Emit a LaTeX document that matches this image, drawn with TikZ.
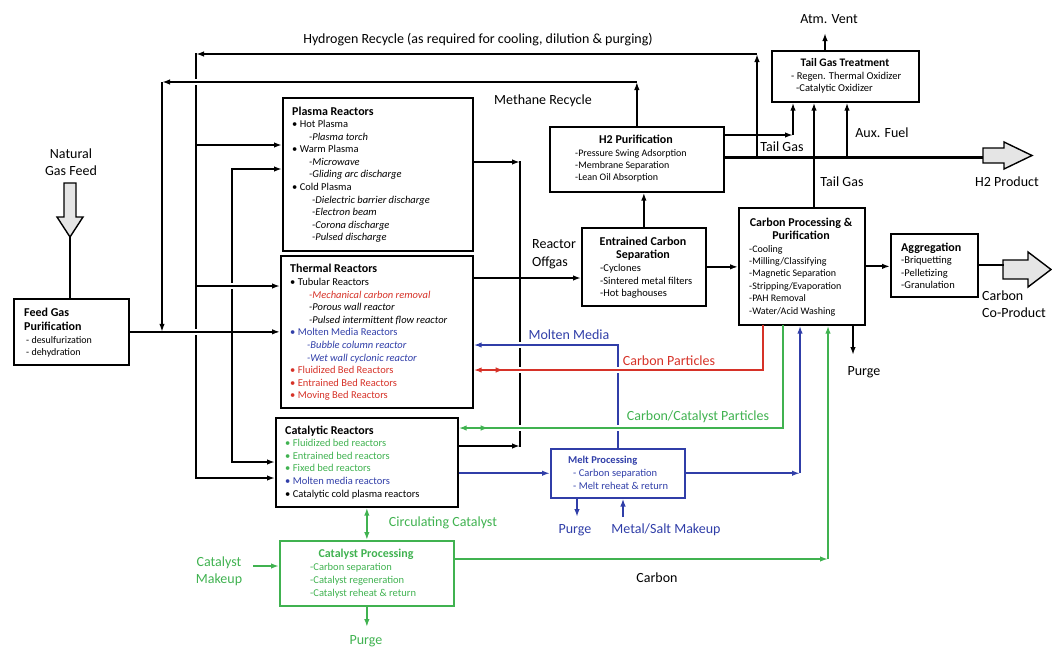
\documentclass[tikz,border=0pt]{standalone}
\usepackage{fontspec}
\setmainfont{Carlito}
\usetikzlibrary{arrows.meta,calc,decorations.markings}

\definecolor{tred}{RGB}{214,50,40}
\definecolor{tblue}{RGB}{48,62,168}
\definecolor{tgreen}{RGB}{64,178,80}

\tikzset{
  box/.style={draw, line width=1.7pt, inner sep=0pt, anchor=north west},
  ttl/.style={inner sep=0pt, font=\fontsize{12}{13}\selectfont\bfseries, align=center},
  body/.style={inner sep=0pt, anchor=north west, align=left, font=\fontsize{10.5}{12.6}\selectfont},
  lbl/.style={inner sep=0pt, font=\fontsize{14}{17}\selectfont, align=center},
  plain/.style={line width=1.8pt, line cap=rect},
  flow/.style={line width=1.8pt, -{Latex[length=8pt,width=5.5pt]}},
  mask/.style={draw=white, line width=6pt, shorten <=7pt, shorten >=7pt},
  twoway/.style={postaction={decorate}, decoration={markings,
      mark=at position -30pt with {\arrowreversed{Latex[length=8pt,width=5.5pt]}}}},
  bigarrow/.style={draw, line width=1.4pt, fill=gray!20}
}

\begin{document}
\begin{tikzpicture}[x=1pt,y=-1pt]
\useasboundingbox (0,0) rectangle (1052,648);

% Feed gas
\node[lbl] (ngf) at (71,162.5) {Natural\\Gas Feed};
\draw[bigarrow] (64,183) -- (76,183) -- (76,217) -- (83,217) -- (70,237) -- (57,217) -- (64,217) -- cycle;
\coordinate (ngtip) at (70,237);
\node[box, minimum width=115pt, minimum height=66pt] (feed) at (13,298) {};
\node[ttl, anchor=north west, align=left, font=\fontsize{12}{14}\selectfont\bfseries] (feedttl) at (24,307.5) {Feed Gas\\Purification};
\node[body, font=\fontsize{10}{12}\selectfont] (feedtxt) at (26,336) {- desulfurization\\- dehydration};
\draw[plain] (ngtip) -- (ngtip |- feed.north);

% Plasma reactors
\node[box, minimum width=190pt, minimum height=153pt] (plasma) at (282,97) {};
\node[ttl, anchor=north west] (plasmattl) at (292,106.5) {Plasma Reactors};
\node[body] (plasmatxt) at (292,120) {\textbullet\ Hot Plasma\\
  \hspace*{17pt}\textit{-Plasma torch}\\
  \textbullet\ Warm Plasma\\
  \hspace*{17pt}\textit{-Microwave}\\
  \hspace*{17pt}\textit{-Gliding arc discharge}\\
  \textbullet\ Cold Plasma\\
  \hspace*{20pt}\textit{-Dielectric barrier discharge}\\
  \hspace*{20pt}\textit{-Electron beam}\\
  \hspace*{20pt}\textit{-Corona discharge}\\
  \hspace*{20pt}\textit{-Pulsed discharge}};

% Thermal reactors
\node[box, minimum width=192pt, minimum height=152pt] (thermal) at (280,255) {};
\node[ttl, anchor=north west] (thermalttl) at (290,263.5) {Thermal Reactors};
\node[body] (thermaltxt) at (290,278) {\textbullet\ Tubular Reactors\\
  \hspace*{19pt}\textcolor{tred}{\textit{-Mechanical carbon removal}}\\
  \hspace*{19pt}\textit{-Porous wall reactor}\\
  \hspace*{19pt}\textit{-Pulsed intermittent flow reactor}\\
  \textcolor{tblue}{\textbullet\ Molten Media Reactors}\\
  \hspace*{17pt}\textcolor{tblue}{\textit{-Bubble column reactor}}\\
  \hspace*{17pt}\textcolor{tblue}{\textit{-Wet wall cyclonic reactor}}\\
  \textcolor{tred}{\textbullet\ Fluidized Bed Reactors}\\
  \textcolor{tred}{\textbullet\ Entrained Bed Reactors}\\
  \textcolor{tred}{\textbullet\ Moving Bed Reactors}};

% Catalytic reactors
\node[box, minimum width=182pt, minimum height=89pt] (catalytic) at (275,417) {};
\node[ttl, anchor=north west] (catalyticttl) at (285,425.5) {Catalytic Reactors};
\node[body, font=\fontsize{10.5}{12.75}\selectfont] (catalytictxt) at (285,439) {\textcolor{tgreen}{\textbullet\ Fluidized bed reactors}\\
  \textcolor{tgreen}{\textbullet\ Entrained bed reactors}\\
  \textcolor{tgreen}{\textbullet\ Fixed bed reactors}\\
  \textcolor{tblue}{\textbullet\ Molten media reactors}\\
  \textbullet\ Catalytic cold plasma reactors};

% Catalyst processing
\node[box, draw=tgreen, minimum width=174pt, minimum height=65pt] (catproc) at (279,540) {};
\node[ttl, anchor=north, text=tgreen] (catprocttl) at (366,548.5) {Catalyst Processing};
\node[body, text=tgreen, font=\fontsize{10.5}{13}\selectfont] (catproctxt) at (310,563) {-Carbon separation\\-Catalyst regeneration\\-Catalyst reheat \& return};

% Melt processing
\node[box, draw=tblue, line width=1.5pt, minimum width=134pt, minimum height=49pt] (melt) at (550,448) {};
\node[ttl, anchor=north west, text=tblue, font=\fontsize{10.5}{12}\selectfont\bfseries] (meltttl) at (568,456) {Melt Processing};
\node[body, text=tblue] (melttxt) at (573,469) {- Carbon separation\\- Melt reheat \& return};

% Entrained carbon separation
\node[box, minimum width=124pt, minimum height=78pt] (entrained) at (581,227) {};
\node[ttl, anchor=north] (entrainedttl) at (643,236.5) {Entrained Carbon\\Separation};
\node[body] (entrainedtxt) at (600,264) {-Cyclones\\-Sintered metal filters\\-Hot baghouses};

% H2 purification
\node[box, minimum width=174pt, minimum height=65pt] (h2pur) at (549,126) {};
\node[ttl, anchor=north] (h2purttl) at (636,134.5) {H2 Purification};
\node[body, font=\fontsize{10}{12}\selectfont] (h2purtxt) at (575,149) {-Pressure Swing Adsorption\\-Membrane Separation\\-Lean Oil Absorption};

% Carbon processing
\node[box, minimum width=126pt, minimum height=117pt] (carbproc) at (738,207) {};
\node[ttl, anchor=north] (carbprocttl) at (801,217.5) {Carbon Processing \&\\Purification};
\node[body, font=\fontsize{10}{12.4}\selectfont] (carbproctxt) at (749,245) {-Cooling\\-Milling/Classifying\\-Magnetic Separation\\-Stripping/Evaporation\\-PAH Removal\\-Water/Acid Washing};

% Aggregation
\node[box, minimum width=87pt, minimum height=63pt] (aggr) at (890,233) {};
\node[ttl, anchor=north west] (aggrttl) at (901,242.5) {Aggregation};
\node[body] (aggrtxt) at (901,256) {-Briquetting\\-Pelletizing\\-Granulation};

% Tail gas treatment
\node[box, minimum width=147pt, minimum height=51pt] (tailgas) at (771,50) {};
\node[ttl, anchor=north, font=\fontsize{11.5}{12}\selectfont\bfseries] (tailgasttl) at (845,58.5) {Tail Gas Treatment};
\node[body, font=\fontsize{10.5}{12.5}\selectfont] (tailgastxt) at (791,72) {- Regen. Thermal Oxidizer\\\hspace*{5pt}-Catalytic Oxidizer};

% Stream labels
\node[lbl] (hrlbl) at (478,40) {Hydrogen Recycle (as required for cooling, dilution \& purging)};
\node[lbl] (mrlbl) at (543,101) {Methane Recycle};
\node[lbl, anchor=west, align=left, font=\fontsize{14}{18}\selectfont] (offlbl) at (532,254) {Reactor\\Offgas};
\node[lbl] (tg1lbl) at (782,147) {Tail Gas};
\node[lbl] (tg2lbl) at (842,182) {Tail Gas};
\node[lbl] (auxlbl) at (882,133) {Aux. Fuel};
\node[lbl] (ventlbl) at (829,19) {Atm. Vent};
\node[lbl] (h2plbl) at (1007,182) {H2 Product};
\node[lbl, anchor=west, align=left] (coplbl) at (982,304) {Carbon\\Co-Product};
\node[lbl] (purgelbl) at (864,372) {Purge};
\node[lbl, text=tblue] (moltenlbl) at (569,335) {Molten Media};
\node[lbl, text=tred] (cparlbl) at (669,361) {Carbon Particles};
\node[lbl, text=tgreen] (ccparlbl) at (698,417) {Carbon/Catalyst Particles};
\node[lbl, text=tblue] (mpurgelbl) at (575,530) {Purge};
\node[lbl, text=tblue] (makeuplbl) at (666,530) {Metal/Salt Makeup};
\node[lbl, text=tgreen] (circlbl) at (443,523) {Circulating Catalyst};
\node[lbl, text=tgreen] (catmklbl) at (219,571.5) {Catalyst\\Makeup};
\node[lbl, text=tgreen] (cppurgelbl) at (366,641) {Purge};
\node[lbl] (carblbl) at (657,578) {Carbon};

% Product arrows
\draw[bigarrow] (983,148) -- (1004,148) -- (1004,142) -- (1032,155.5) -- (1004,169) -- (1004,163) -- (983,163) -- cycle;
\coordinate (h2tail) at (983,157);
\draw[bigarrow] (1003,260) -- (1028,260) -- (1028,252) -- (1051,269.5) -- (1028,287) -- (1028,279) -- (1003,279) -- cycle;
\coordinate (coptail) at (1003,269);

% Hydrogen recycle
\coordinate (hrup) at (757,157);
\coordinate (hrtop) at (757,54);
\coordinate (hrleft) at (196,54);
\coordinate (hrbot) at (196,478);
\draw[flow] (hrup) -- (hrtop);
\draw[flow] (hrtop) -- (hrleft);
\draw[plain] (hrleft) -- (hrbot);
\draw[flow] (hrbot) -- (hrbot -| catalytic.west);
\draw[flow] (hrleft |- 0,145) -- (plasma.west |- 0,145);

% Feed line
\draw[mask] (feed.east) -- (feed.east -| thermal.west);
\draw[flow] (feed.east) -- (feed.east -| thermal.west);

% Methane recycle
\coordinate (mrtop) at (h2pur.north |- 0,82);
\coordinate (mrleft) at (162,82);
\draw[flow] (h2pur.north) -- (mrtop);
\draw[mask] (mrtop) -- (mrleft);
\draw[flow] (mrtop) -- (mrleft);
\draw[flow] (mrleft) -- (mrleft |- feed.east);

% Feed distribution
\coordinate (fdtop) at (232,169);
\coordinate (fdbot) at (232,462);
\draw[plain] (fdtop) -- (fdbot);
\draw[flow] (fdtop) -- (fdtop -| plasma.west);
\draw[flow] (fdbot) -- (fdbot -| catalytic.west);
\draw[mask] (hrleft |- 0,286) -- (thermal.west |- 0,286);
\draw[flow] (hrleft |- 0,286) -- (thermal.west |- 0,286);

% Reactor offgas
\coordinate (ogtop) at (520,162);
\coordinate (ogbot) at (520,446);
\draw[plain] (ogtop) -- (ogbot);
\draw[flow] (plasma.east |- ogtop) -- (ogtop);
\draw[flow] (catalytic.east |- ogbot) -- (ogbot);
\draw[flow] (thermal.east |- 0,278) -- (entrained.west |- 0,278);

% Separation and purification
\draw[flow] (entrained.north) -- (entrained.north |- h2pur.south);
\draw[flow] (entrained.east) -- (entrained.east -| carbproc.west);
\draw[flow] (carbproc.east) -- (carbproc.east -| aggr.west);
\draw[plain] (aggr.east) -- (aggr.east -| coptail);
\draw[line width=3pt] (h2pur.east |- h2tail) -- (h2tail);

% Tail gas
\coordinate (tgcorner) at (793,135);
\coordinate (tgx) at (814,0);
\coordinate (auxx) at (847,157);
\coordinate (ventx) at (825,33);
\draw[flow] (h2pur.east |- tgcorner) -- (tgcorner);
\draw[flow] (tgcorner) -- (tgcorner |- tailgas.south);
\draw[flow] (tgx |- carbproc.north) -- (tgx |- tailgas.south);
\draw[flow] (auxx) -- (auxx |- tailgas.south);
\draw[flow] (ventx |- tailgas.north) -- (ventx);
\coordinate (cpurge) at (853,355);
\draw[flow] (cpurge |- carbproc.south) -- (cpurge);

% Molten media, carbon particles
\coordinate (mmcorner) at (melt.north |- 0,345);
\draw[plain, tblue] (melt.north) -- (mmcorner);
\draw[mask] (mmcorner) -- (mmcorner -| thermal.east);
\draw[flow, tblue] (mmcorner) -- (mmcorner -| thermal.east);
\coordinate (cpred) at (763,370);
\draw[plain, tred] (cpred |- carbproc.south) -- (cpred);
\draw[mask] (cpred) -- (cpred -| thermal.east);
\draw[flow, tred, twoway] (cpred) -- (cpred -| thermal.east);
\coordinate (cpgreen) at (783,428);
\draw[plain, tgreen] (cpgreen |- carbproc.south) -- (cpgreen);
\draw[mask] (cpgreen) -- (cpgreen -| catalytic.east);
\draw[flow, tgreen, twoway] (cpgreen) -- (cpgreen -| catalytic.east);

% Melt processing streams
\coordinate (mcx) at (800,0);
\draw[flow, tblue] (catalytic.east |- melt.west) -- (melt.west);
\draw[flow, tblue] (melt.east) -- (mcx |- melt.east);
\draw[flow, tblue] (mcx |- melt.east) -- (mcx |- carbproc.south);
\coordinate (mpx) at (577,517);
\coordinate (mkx) at (623,517);
\draw[flow, tblue] (mpx |- melt.south) -- (mpx);
\draw[flow, tblue] (mkx) -- (mkx |- melt.south);

% Catalyst loop
\draw[tgreen, line width=1.8pt, {Latex[length=8pt,width=5.5pt]}-{Latex[length=8pt,width=5.5pt]}] (catalytic.south) -- (catproc.north);
\coordinate (cmk) at (253,566);
\draw[flow, tgreen] (cmk) -- (cmk -| catproc.west);
\coordinate (cppx) at (366,627);
\draw[flow, tgreen] (catproc.south) -- (catproc.south |- cppx);
\coordinate (cgx) at (828,559);
\draw[flow, tgreen] (catproc.east |- cgx) -- (cgx);
\draw[flow, tgreen] (cgx) -- (cgx |- carbproc.south);

\end{tikzpicture}
\end{document}
